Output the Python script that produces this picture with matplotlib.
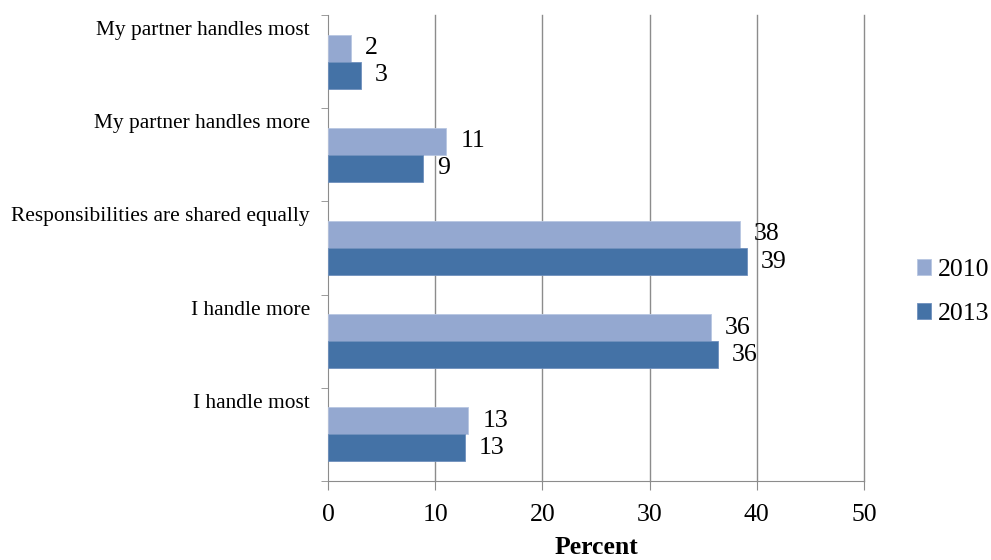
import matplotlib.pyplot as plt
import numpy as np

categories = ["My partner handles most", "My partner handles more",
              "Responsibilities are shared equally", "I handle more", "I handle most"]
v2010 = [2.1, 11.05, 38.4, 35.7, 13.1]
v2013 = [3.1, 8.9, 39.1, 36.4, 12.8]
lab2010 = ["2", "11", "38", "36", "13"]
lab2013 = ["3", "9", "39", "36", "13"]
series = ["2010", "2013"]
xticks = [0, 10, 20, 30, 40, 50]

plt.rcParams['font.family'] = ['Liberation Serif', 'DejaVu Serif']

c2010 = '#94A8D0'
c2013 = '#4472A6'
grid_c = '#8c8c8c'
numsize = 18.5

fig = plt.figure(figsize=(9.91, 5.6), dpi=100)
ax = fig.add_axes([328/991, 1 - 481/560, 536/991, 466/560])

y = np.arange(len(categories))
h = 0.29
b1 = ax.barh(y - h/2, v2010, height=h, color=c2010, edgecolor='#b8c6e2', linewidth=0.6, label=series[0], zorder=3)
b2 = ax.barh(y + h/2, v2013, height=h, color=c2013, edgecolor='#6f90bd', linewidth=0.6, label=series[1], zorder=3)

for bars, labs in [(b1, lab2010), (b2, lab2013)]:
    for rect, lab in zip(bars, labs):
        ax.annotate(lab, (rect.get_width(), rect.get_y() + rect.get_height()/2),
                    xytext=(10, 0), textcoords='offset points',
                    ha='left', va='center', fontsize=numsize, color='black')

ax.set_xlim(0, 50)
ax.set_ylim(4.5, -0.5)
ax.set_xticks(xticks)
ax.tick_params(axis='x', labelsize=numsize, length=6.5, color=grid_c, pad=10)
for xv in xticks[1:]:
    ax.axvline(xv, color=grid_c, linewidth=1, zorder=0, clip_on=False)

# category labels sit near the top of each band
ax.set_yticks(y - 0.36)
ax.set_yticklabels(categories, fontsize=15.4)
ax.tick_params(axis='y', which='major', length=0, pad=13)
ax.set_yticks(np.arange(-0.5, len(categories)), minor=True)
ax.tick_params(axis='y', which='minor', length=5, color=grid_c)

for s in ['top', 'right']:
    ax.spines[s].set_visible(False)
for s in ['left', 'bottom']:
    ax.spines[s].set_color(grid_c)

ax.set_xlabel("Percent", fontsize=numsize, fontweight='bold', labelpad=7)

fig.legend(handles=[b1, b2], labels=series, loc='center left',
           bbox_to_anchor=(917/991, 1 - 292/560), frameon=False,
           fontsize=numsize, handlelength=0.55, handleheight=0.55,
           handletextpad=0.25, labelspacing=0.85, borderaxespad=0, borderpad=0)

fig.savefig("out.png", dpi=100)
